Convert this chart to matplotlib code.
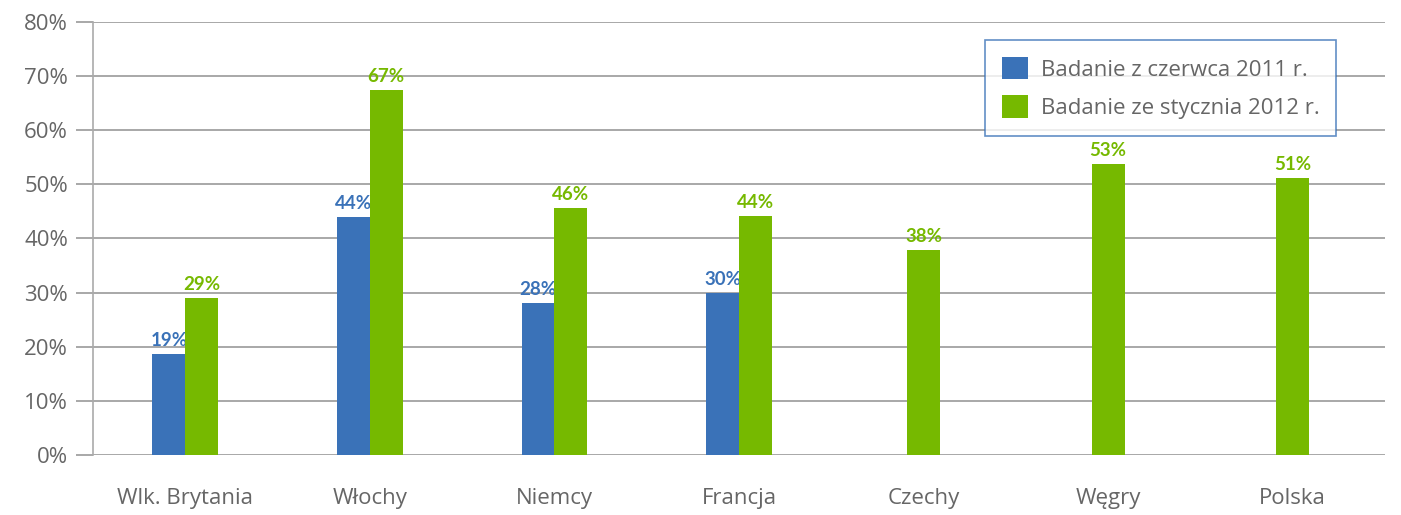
import matplotlib.pyplot as plt
import numpy as np

# Dane
kraje = ['Wlk. Brytania', 'Włochy', 'Niemcy', 'Francja', 'Czechy', 'Węgry', 'Polska']
czerwiec_2011 = [18.7, 44.0, 28.1, 30.0, None, None, None]
styczen_2012 = [29.0, 67.5, 45.7, 44.2, 37.9, 53.8, 51.2]
etykiety_2011 = ['19%', '44%', '28%', '30%', None, None, None]
etykiety_2012 = ['29%', '67%', '46%', '44%', '38%', '53%', '51%']
nazwy_serii = ['Badanie z czerwca 2011 r.', 'Badanie ze stycznia 2012 r.']

niebieski = '#3a72b8'
zielony = '#76b900'
plt.rcParams['font.family'] = ['Open Sans', 'DejaVu Sans']

fig = plt.figure(figsize=(14.01, 5.15), dpi=100)
ax = fig.add_axes([93/1401, 60/515, (1385-93)/1401, (455-22)/515])

x = np.arange(len(kraje))
w = 0.178

for i in range(len(kraje)):
    if czerwiec_2011[i] is not None:
        ax.bar(x[i] - w/2, czerwiec_2011[i], w, color=niebieski,
               label=nazwy_serii[0] if i == 0 else None, zorder=3)
        ax.text(x[i] - w/2, czerwiec_2011[i] + 0.9, etykiety_2011[i], ha='center', va='bottom',
                color=niebieski, fontsize=13.5, fontweight='bold', family=['Lato', 'DejaVu Sans'])
        xg = x[i] + w/2
    else:
        xg = x[i]
    ax.bar(xg, styczen_2012[i], w, color=zielony,
           label=nazwy_serii[1] if i == 0 else None, zorder=3)
    ax.text(xg, styczen_2012[i] + 0.9, etykiety_2012[i], ha='center', va='bottom',
            color=zielony, fontsize=13.5, fontweight='bold', family=['Lato', 'DejaVu Sans'])

ax.set_xlim(-0.5, len(kraje) - 0.5)
ax.set_ylim(0, 80)
ax.set_yticks(np.arange(0, 81, 10))
ax.set_yticklabels([f'{v}%' for v in range(0, 81, 10)])
ax.set_xticks(x)
ax.set_xticklabels(kraje)
ax.grid(axis='y', color='#999999', linewidth=1.2, zorder=0)
for s in ['top', 'right', 'bottom']:
    ax.spines[s].set_visible(False)
ax.spines['left'].set_color('#aaaaaa')
ax.spines['left'].set_linewidth(1.2)
ax.tick_params(axis='y', length=12, color='#999999', width=1.2, labelsize=16,
               labelcolor='#666666', pad=6)
ax.tick_params(axis='x', length=0, labelsize=16, labelcolor='#666666', pad=24)

leg = fig.legend(loc='upper left', bbox_to_anchor=(985/1401, 1 - 40/515),
                 fontsize=16, frameon=True, fancybox=False, handlelength=1.2,
                 handleheight=1.2, borderpad=0.75, labelspacing=0.65, handletextpad=0.55,
                 borderaxespad=0)
leg.get_frame().set_edgecolor('#3a72b8')
leg.get_frame().set_linewidth(1.2)
for t in leg.get_texts():
    t.set_color('#666666')

fig.savefig('out.png', dpi=100)
